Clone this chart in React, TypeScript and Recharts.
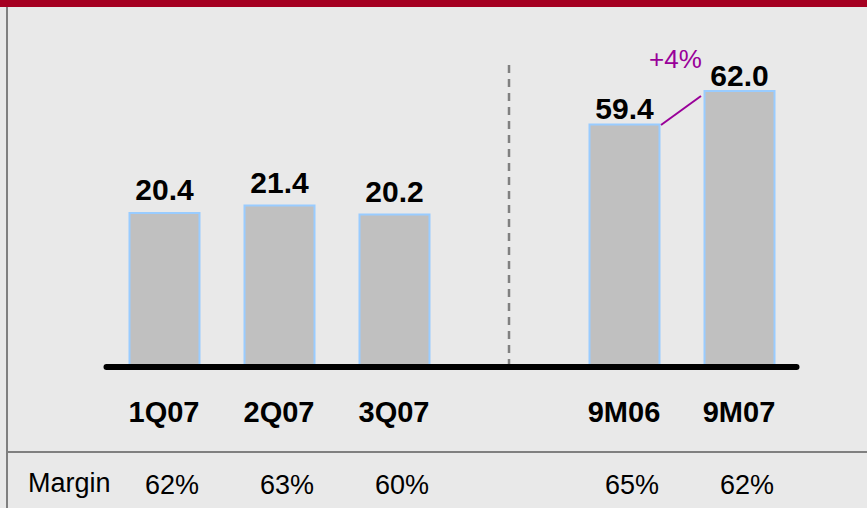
import { BarChart, Bar, XAxis, YAxis, LabelList, ReferenceLine } from "recharts";

const categories = ["1Q07", "2Q07", "3Q07", " ", "9M06", "9M07"];
const quarterly = [20.4, 21.4, 20.2, null, null, null];
const nineMonths = [null, null, null, null, 59.4, 62.0];
const margins = ["62%", "63%", "60%", "", "65%", "62%"];
const growthLabel = "+4%";

const FONT = '"Liberation Sans", Arial, sans-serif';
const BAR_SIZE = 70;

const data = categories.map((cat, i) => ({
  cat,
  q: quarterly[i],
  nm: nineMonths[i],
}));

function CategoryTick(props: any) {
  const { x, y, payload } = props;
  const i = categories.indexOf(payload.value);
  return (
    <g>
      <text x={x} y={y + 47} textAnchor="middle" fontSize={29} fontWeight="bold"
        fontFamily={FONT} fill="#000">
        {payload.value}
      </text>
      <text x={x + 8} y={y + 119} textAnchor="middle" fontSize={27}
        fontFamily={FONT} fill="#000">
        {margins[i]}
      </text>
    </g>
  );
}

// connector between the two nine-month bars, plus the growth label
function GrowthLine(props: any) {
  const { x1, y1, x2, y2 } = props;
  const sx = x1 + BAR_SIZE / 2 + 2;
  const ex = x2 - BAR_SIZE / 2 - 3;
  return (
    <g>
      <line x1={sx} y1={y1 + 0.5} x2={ex} y2={y2 + 5} stroke="#990099" strokeWidth={2} />
      <text x={(x1 + x2) / 2 - 6} y={y2 - 23} textAnchor="middle" fontSize={26}
        fontFamily={FONT} fill="#990099">
        {growthLabel}
      </text>
    </g>
  );
}

export default function App() {
  return (
    <div style={{
      position: "absolute", left: 0, top: 0, width: 867, height: 508,
      background: "#e9e9e9", overflow: "hidden", fontFamily: FONT,
    }}>
      <div style={{ position: "absolute", left: 0, top: 0, width: 867, height: 7, background: "#a50021" }} />
      <div style={{ position: "absolute", left: 6, top: 7, width: 2, height: 501, background: "#808080" }} />
      <div style={{ position: "absolute", left: 7, top: 451, width: 860, height: 2, background: "#808080" }} />
      <div style={{
        position: "absolute", left: 28, top: 468, fontSize: 27, lineHeight: "30px", color: "#000",
      }}>
        Margin
      </div>
      <div style={{ position: "absolute", left: 0, top: 0 }}>
        <BarChart width={867} height={508} data={data}
          margin={{ top: 63, right: 70.5, bottom: 111, left: 106.5 }}>
          <XAxis xAxisId="a" dataKey="cat" height={30} interval={0} tickLine={false}
            axisLine={{ stroke: "#000", strokeWidth: 6, strokeLinecap: "round" }}
            tick={<CategoryTick />} />
          <XAxis xAxisId="b" dataKey="cat" hide />
          <YAxis yAxisId="left" hide domain={[0, 40.3]} allowDataOverflow />
          <YAxis yAxisId="right" hide domain={[40.58, 64.17]} allowDataOverflow />
          <ReferenceLine xAxisId="a" yAxisId="left" x=" " stroke="#808080" strokeWidth={2.5}
            strokeDasharray="8 6" />
          <Bar xAxisId="a" yAxisId="left" dataKey="q" barSize={BAR_SIZE} fill="#c0c0c0"
            stroke="#99ccff" strokeWidth={2} isAnimationActive={false}>
            <LabelList dataKey="q" position="top" offset={13} fill="#000" fontSize={30}
              fontWeight="bold" fontFamily={FONT} formatter={(v: any) => (v == null ? "" : v.toFixed(1))} />
          </Bar>
          <Bar xAxisId="b" yAxisId="right" dataKey="nm" barSize={BAR_SIZE} fill="#c0c0c0"
            stroke="#99ccff" strokeWidth={2} isAnimationActive={false}>
            <LabelList dataKey="nm" position="top" offset={5} fill="#000" fontSize={30}
              fontWeight="bold" fontFamily={FONT} formatter={(v: any) => (v == null ? "" : v.toFixed(1))} />
          </Bar>
          <ReferenceLine xAxisId="b" yAxisId="right"
            segment={[{ x: "9M06", y: nineMonths[4] }, { x: "9M07", y: nineMonths[5] }]}
            shape={<GrowthLine />} />
        </BarChart>
      </div>
    </div>
  );
}
